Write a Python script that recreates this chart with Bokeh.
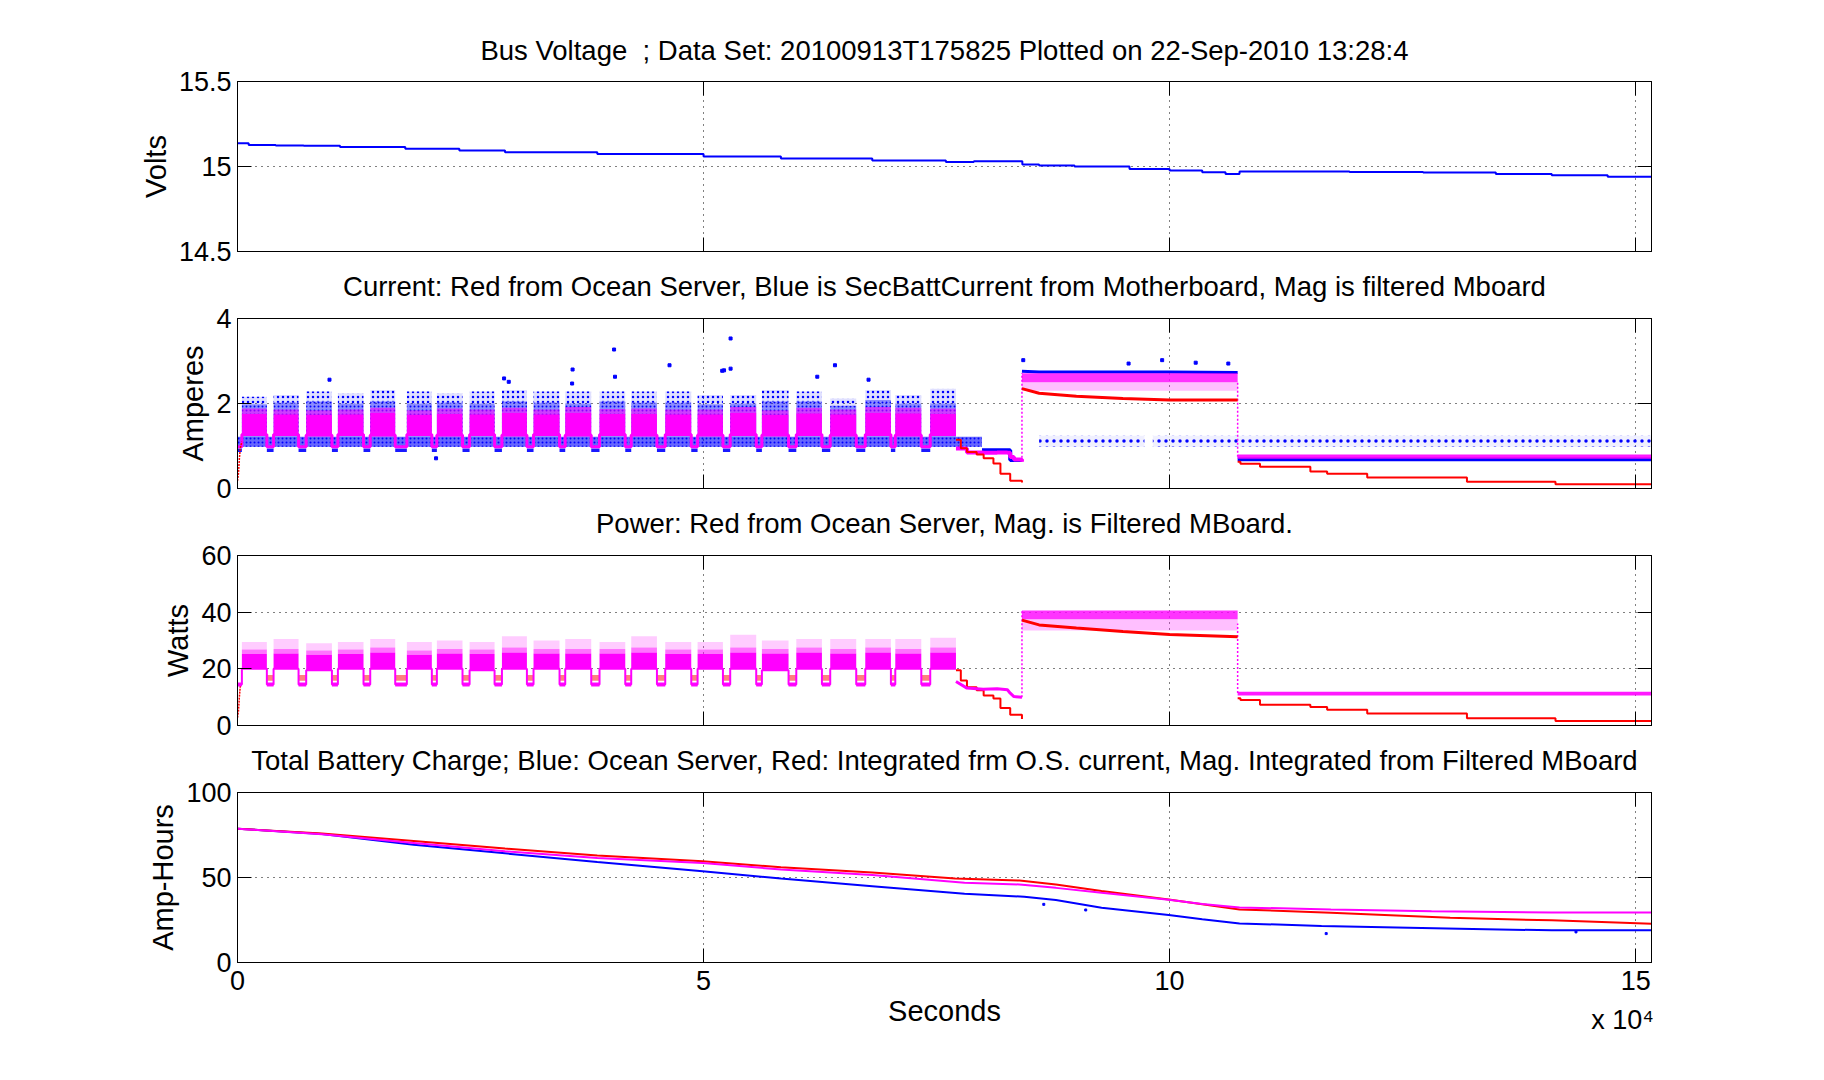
from bokeh.plotting import figure
from bokeh.layouts import column
from bokeh.models import Range1d, FixedTicker, LinearAxis, Title, CustomJSTickFormatter
from bokeh.embed import file_html
from bokeh.resources import INLINE

FONT = "Liberation Sans"

# ---------------- data ----------------
x_max_s = 151700
x_ticks_s = [0, 50000, 100000, 150000]
x_exponent_label = "x 10\u2074"
x_exponent_anchor_s = 148600   # where the exponent note is centred under the axis

titles = [
    "Bus Voltage \u00a0; Data Set: 20100913T175825 Plotted on 22-Sep-2010 13:28:4",
    "Current: Red from Ocean Server, Blue is SecBattCurrent from Motherboard, Mag is filtered Mboard",
    "Power: Red from Ocean Server, Mag. is Filtered MBoard.",
    "Total Battery Charge; Blue: Ocean Server, Red: Integrated frm O.S. current, Mag. Integrated from Filtered MBoard",
]

# Bus voltage
volt_t = [0, 1200, 4100, 7100, 11000, 18000, 23800, 28700, 38600, 50000, 58300, 68100, 76000, 79000,
          83900, 84200, 86000, 89800, 95700, 100000, 103500, 106000, 107500, 119300, 127200, 135000,
          141000, 147000, 151700]
volt_v = [15.137, 15.127, 15.124, 15.122, 15.114, 15.104, 15.094, 15.084, 15.073, 15.059, 15.047,
          15.035, 15.027, 15.031, 15.031, 15.012, 15.006, 15.000, 14.986, 14.976, 14.966, 14.956,
          14.970, 14.968, 14.964, 14.956, 14.948, 14.940, 14.940]

# mission bursts (seconds)
burst_start = [470, 3870, 7370, 10770, 14240, 18170, 21390, 24900, 28370, 31760, 35160, 38840,
               42240, 45890, 49360, 52860, 56260, 59950, 63590, 67350, 70570, 74320]
burst_end = [3150, 6550, 10130, 13520, 16920, 20850, 24140, 27580, 31050, 34550, 37950, 41600,
             45000, 48680, 52080, 55650, 59120, 62700, 66380, 70100, 73360, 77080]

# current in bursts (A)
cur_blue_sparse_top = [2.16, 2.20, 2.28, 2.24, 2.32, 2.28, 2.24, 2.28, 2.32, 2.28, 2.28, 2.28,
                       2.28, 2.28, 2.20, 2.20, 2.32, 2.28, 2.12, 2.32, 2.20, 2.35]
cur_blue_dense_top = [1.98, 2.02, 2.05, 2.00, 2.05, 2.00, 2.02, 2.00, 2.05, 2.02, 2.00, 2.05,
                      2.02, 2.02, 1.98, 2.00, 2.05, 2.05, 1.95, 2.08, 2.00, 2.00]
cur_mag_top = [1.88, 1.86, 1.84, 1.86, 1.90, 1.84, 1.88, 1.86, 1.90, 1.86, 1.92, 1.87,
               1.88, 1.86, 1.86, 1.92, 1.84, 1.90, 1.86, 1.92, 1.90, 1.88]
cur_mag_core_top = [1.76, 1.75, 1.74, 1.75, 1.78, 1.74, 1.76, 1.75, 1.78, 1.75, 1.78, 1.76,
                    1.76, 1.75, 1.75, 1.78, 1.74, 1.77, 1.75, 1.78, 1.77, 1.76]
cur_mag_bot = [1.27, 1.27, 1.26, 1.27, 1.26, 1.27, 1.26, 1.27, 1.26, 1.27, 1.26, 1.27,
               1.26, 1.27, 1.26, 1.27, 1.26, 1.27, 1.26, 1.27, 1.26, 1.27]
cur_base_t = [0, 79870]
cur_base_lo = [0.98, 0.98]
cur_base_hi = [1.22, 1.22]
cur_dip_blue = [0.86, 0.94]
cur_dip_mag_level = 0.98

# power in bursts (W)
pow_mag_bot = [20.0, 20.0, 19.5, 20.0, 20.0, 20.0, 20.0, 19.5, 20.0, 20.0, 20.0, 20.0,
               20.0, 20.0, 20.0, 20.0, 19.5, 20.0, 20.0, 20.0, 20.0, 20.0]
pow_mag_core_top = [25.2, 25.4, 25.0, 25.2, 25.8, 25.0, 25.4, 25.2, 25.8, 25.4, 25.4, 25.4,
                    25.8, 25.2, 25.2, 25.8, 25.4, 25.8, 25.4, 25.8, 25.4, 25.8]
pow_mag_top = [26.8, 27.0, 26.5, 26.8, 27.5, 26.5, 27.0, 26.8, 27.5, 27.0, 27.0, 27.0,
               27.5, 26.8, 26.8, 27.5, 27.0, 27.5, 27.0, 27.5, 27.0, 27.5]
pow_mag_peak = [29.5, 30.5, 29.0, 29.5, 30.5, 29.5, 30.0, 29.5, 31.5, 30.0, 30.5, 29.5,
                31.5, 29.5, 29.5, 32.0, 30.0, 30.5, 30.5, 30.5, 30.5, 31.0]
pow_dip_mag = [13.8, 15.2]
pow_dip_mag_level = 14.5
pow_dip_red = [15.8, 17.8]

# start-up ramp of Ocean Server readings
start_t = [0, 100, 200, 300, 470]
cur_red_start = [0.18, 0.35, 0.70, 0.95, 1.10]
pow_red_start = [2.8, 5.0, 10.0, 14.0, 15.0]

# transition after the missions
decl_t_red = [77080, 77600, 78260, 79300, 80050, 81100, 81850, 82900, 84160]
cur_red_decl = [1.15, 0.95, 0.86, 0.80, 0.71, 0.59, 0.35, 0.18, 0.14]
pow_red_decl = [19.5, 15.9, 13.5, 12.4, 10.6, 9.5, 6.2, 3.8, 2.3]
decl_t_mag = [77080, 78260, 80000, 81500, 82600, 82900, 83300, 84160]
cur_mag_decl = [0.94, 0.85, 0.84, 0.85, 0.84, 0.74, 0.68, 0.63]
pow_mag_decl = [15.5, 13.2, 12.8, 13.0, 12.6, 11.4, 10.2, 10.0]
decl_t_blue = [79870, 82900, 84160]
cur_blue_decl = [0.90, 0.67, 0.67]

# high-load phase
p2_t = [84160, 86000, 90000, 95000, 100000, 107300]
cur_red_p2 = [2.35, 2.24, 2.17, 2.12, 2.08, 2.08]
pow_red_p2 = [37.2, 35.5, 34.4, 33.2, 32.1, 31.3]
cur_blue_p2 = [2.76, 2.74, 2.74, 2.74, 2.74, 2.73]
p2_span = [84160, 107300]
cur_mag_p2_dense = [2.50, 2.71]
cur_mag_p2_sparse = [2.30, 2.50]
pow_mag_p2_dense = [37.5, 40.6]
pow_mag_p2_sparse = [33.5, 37.5]

# low-load phase
p3_t = [107300, 107600, 109700, 115100, 116900, 121200, 131900, 141400, 151700]
cur_red_p3 = [0.63, 0.58, 0.51, 0.40, 0.35, 0.26, 0.16, 0.10, 0.10]
pow_red_p3 = [9.6, 9.0, 7.3, 6.5, 5.6, 4.2, 2.6, 1.6, 1.6]
p3_span = [107300, 151700]
cur_blue_p3 = [0.69, 0.69]
cur_mag_p3 = [0.70, 0.80]
pow_mag_p3 = [10.6, 11.9]

# sparse blue SecBattCurrent scatter after the missions
sparse_left = [86000, 98200]
sparse_right = [97300, 151700]
sparse_lo = [0.98, 0.98]
sparse_hi = [1.24, 1.24]

# step transitions of the filtered signal
jump_t = [84160, 107300]
cur_jump_lo = [0.63, 0.75]
cur_jump_hi = [2.72, 2.50]
pow_jump_lo = [10.0, 11.5]
pow_jump_hi = [41.0, 36.0]

# isolated blue outliers
out_t = [9870, 40400, 46350, 35950, 40500, 52000, 28600, 29100, 35900, 21300, 52900, 52900,
         64100, 62200, 67700, 52200, 84300, 95600, 99200, 102800, 106300]
out_a = [2.56, 3.27, 2.90, 2.80, 2.63, 2.77, 2.59, 2.51, 2.47, 0.71, 3.53, 2.82,
         2.90, 2.63, 2.56, 2.78, 3.02, 2.94, 3.02, 2.96, 2.94]

# total battery charge (Ah)
ah_t_blue = [0, 9060, 18900, 28700, 38600, 49900, 58300, 68100, 78000, 84400, 87800, 92700,
             99900, 103500, 107500, 116300, 131100, 141000, 151700]
ah_blue = [78.7, 75.6, 69.3, 64.2, 59.1, 53.7, 49.4, 44.9, 40.4, 38.7, 36.7, 32.2,
           27.9, 25.4, 23.0, 21.5, 19.9, 18.9, 18.9]
ah_t_red = [0, 9060, 18900, 28700, 38600, 49900, 58300, 68100, 77000, 83900, 87800, 92700,
            99900, 103500, 107500, 117300, 130100, 141000, 151700]
ah_red = [78.7, 75.9, 71.5, 67.0, 63.0, 59.6, 56.0, 52.9, 49.4, 48.2, 45.9, 42.0,
          37.1, 34.2, 31.2, 29.3, 26.3, 24.8, 22.8]
ah_t_mag = [0, 9060, 18900, 28700, 38600, 49900, 58300, 68100, 78000, 83900, 87800, 92700,
            99900, 103500, 107500, 117300, 128100, 141000, 151700]
ah_mag = [78.7, 75.4, 70.3, 65.4, 61.5, 58.6, 54.7, 51.4, 46.9, 45.9, 43.9, 41.0,
          36.9, 34.4, 32.4, 31.2, 30.2, 29.4, 29.4]
ah_out_t = [86500, 91000, 116800, 143600]
ah_out_v = [34.2, 30.9, 17.0, 18.0]

# ---------------- helpers ----------------
BLUE, RED, MAG = "#0000ff", "#ff0000", "#ff00ff"
TICK_PX = "27px"
TITLE_PX = "27.5px"


def style_axis(ax, labels):
    ax.major_tick_in = 14
    ax.major_tick_out = 0
    ax.minor_tick_line_color = None
    ax.axis_line_color = "black"
    ax.major_tick_line_color = "black"
    ax.major_label_text_font = FONT
    if labels:
        ax.major_label_text_color = "black"
        ax.major_label_text_font_size = TICK_PX
        ax.major_label_standoff = 6
    else:
        ax.major_label_text_color = None
        ax.major_label_text_alpha = 0
        ax.major_label_text_font_size = "0px"
        ax.major_label_standoff = 0
    ax.axis_label_text_font = FONT
    ax.axis_label_text_font_style = "normal"
    ax.axis_label_text_font_size = "29px"
    ax.axis_label_text_color = "black"


def make_panel(idx, ylabel, yr, yticks):
    first = idx == 0
    last = idx == 3
    p = figure(frame_width=1414, frame_height=170, title=None,
               x_range=Range1d(0, x_max_s), y_range=Range1d(*yr),
               output_backend="svg", toolbar_location=None,
               min_border_left=237, min_border_right=40,
               min_border_top=81 if first else 14,
               min_border_bottom=95 if last else 51,
               background_fill_color="white", border_fill_color="white")
    p.outline_line_color = "black"
    xt = FixedTicker(ticks=x_ticks_s)
    yt = FixedTicker(ticks=yticks)
    p.xaxis.ticker = xt
    p.yaxis.ticker = yt
    p.xaxis.formatter = CustomJSTickFormatter(code="return (tick/10000).toString();")
    p.yaxis.formatter = CustomJSTickFormatter(code="return tick.toString();")
    style_axis(p.xaxis[0], last)
    style_axis(p.yaxis[0], True)
    p.yaxis.axis_label = ylabel
    p.yaxis.axis_label_standoff = 4
    if last:
        p.xaxis.major_label_standoff = 8
        p.xaxis.axis_label = "Seconds"
        p.xaxis.axis_label_standoff = 2
    else:
        # the next panel's heading sits in the gap below this panel
        p.xaxis.axis_label = titles[idx + 1]
        p.xaxis.axis_label_text_font_size = TITLE_PX
        p.xaxis.axis_label_standoff = 19
    right = LinearAxis(ticker=yt)
    style_axis(right, False)
    p.add_layout(right, "right")
    top = LinearAxis(ticker=xt)
    style_axis(top, False)
    p.add_layout(top, "above")
    for g, t in ((p.xgrid, xt), (p.ygrid, yt)):
        g.ticker = t
        g.grid_line_color = "black"
        g.grid_line_dash = "1 5"
        g.grid_line_width = 1
        g.grid_line_alpha = 1.0
    if first:
        p.add_layout(Title(text=titles[0], text_font=FONT, text_font_size=TITLE_PX,
                           text_font_style="normal", align="center", text_color="black",
                           standoff=31), "above")
    return p


def burst_path(bottoms, dip_level):
    xs, ys = [0, burst_start[0]], [dip_level, dip_level]
    for i in range(len(burst_start)):
        xs += [burst_start[i], burst_end[i]]
        ys += [bottoms[i], bottoms[i]]
        if i < len(burst_start) - 1:
            xs += [burst_end[i], burst_start[i + 1]]
            ys += [dip_level, dip_level]
    return xs, ys


dip_left = [0] + burst_end[:-1]
dip_right = burst_start

# ---------------- panel 1: voltage ----------------
p1 = make_panel(0, "Volts", (14.5, 15.5), [14.5, 15, 15.5])
p1.step(volt_t, volt_v, mode="after", color=BLUE, line_width=2)

# ---------------- panel 2: current ----------------
p2 = make_panel(1, "Amperes", (0, 4), [0, 2, 4])
# blue SecBattCurrent
p2.quad(left=cur_base_t[:1], right=cur_base_t[1:], bottom=cur_base_lo[:1], top=cur_base_hi[:1],
        fill_color=BLUE, fill_alpha=0.6, line_color=None,
        hatch_pattern="dot", hatch_color=BLUE, hatch_scale=4, hatch_weight=2)
p2.quad(left=burst_start, right=burst_end, bottom=cur_base_hi[0], top=cur_blue_dense_top,
        fill_color=BLUE, fill_alpha=0.45, line_color=None,
        hatch_pattern="dot", hatch_color=BLUE, hatch_scale=4, hatch_weight=2)
p2.quad(left=burst_start, right=burst_end, bottom=cur_blue_dense_top, top=cur_blue_sparse_top,
        fill_color=BLUE, fill_alpha=0.12, line_color=None,
        hatch_pattern="dot", hatch_color=BLUE, hatch_scale=5, hatch_weight=2)
p2.quad(left=dip_left, right=dip_right, bottom=cur_dip_blue[0], top=cur_dip_blue[1],
        fill_color=BLUE, fill_alpha=0.9, line_color=None)
p2.quad(left=sparse_left, right=sparse_right, bottom=sparse_lo, top=sparse_hi,
        fill_color=BLUE, fill_alpha=0.06, line_color=None,
        hatch_pattern="dot", hatch_color=BLUE, hatch_scale=7, hatch_weight=2)
p2.step(decl_t_blue, cur_blue_decl, mode="after", color=BLUE, line_width=4)
p2.line(p2_t, cur_blue_p2, color=BLUE, line_width=3)
p2.line(p3_span, cur_blue_p3, color=BLUE, line_width=4)
p2.scatter(out_t, out_a, marker="square", size=3, color=BLUE)
# magenta filtered
p2.quad(left=burst_start, right=burst_end, bottom=cur_mag_core_top, top=cur_mag_top,
        fill_color=MAG, fill_alpha=0.55, line_color=None)
p2.quad(left=burst_start, right=burst_end, bottom=cur_mag_bot, top=cur_mag_core_top,
        fill_color=MAG, fill_alpha=1.0, line_color=None)
bx, by = burst_path(cur_mag_bot, cur_dip_mag_level)
p2.line(bx, by, color=MAG, line_width=3)
p2.step(decl_t_mag, cur_mag_decl, mode="after", color=MAG, line_width=4)
p2.quad(left=p2_span[:1], right=p2_span[1:], bottom=cur_mag_p2_sparse[:1], top=cur_mag_p2_sparse[1:],
        fill_color=MAG, fill_alpha=0.25, line_color=None)
p2.quad(left=p2_span[:1], right=p2_span[1:], bottom=cur_mag_p2_dense[:1], top=cur_mag_p2_dense[1:],
        fill_color=MAG, fill_alpha=0.8, line_color=None)
p2.quad(left=p3_span[:1], right=p3_span[1:], bottom=cur_mag_p3[:1], top=cur_mag_p3[1:],
        fill_color=MAG, fill_alpha=0.9, line_color=None)
p2.segment(x0=jump_t, y0=cur_jump_lo, x1=jump_t, y1=cur_jump_hi, color=MAG, line_width=1.5,
           line_dash="2 2")
# red Ocean Server
p2.line(start_t, cur_red_start, color=RED, line_width=1.5, line_dash="2 1")
p2.step(decl_t_red, cur_red_decl, mode="after", color=RED, line_width=2)
p2.line(p2_t, cur_red_p2, color=RED, line_width=3)
p2.step(p3_t, cur_red_p3, mode="after", color=RED, line_width=2)

# ---------------- panel 3: power ----------------
p3 = make_panel(2, "Watts", (0, 60), [0, 20, 40, 60])
p3.quad(left=dip_left[1:], right=dip_right[1:], bottom=pow_dip_red[0], top=pow_dip_red[1],
        fill_color=RED, fill_alpha=0.5, line_color=None)
p3.line(start_t, pow_red_start, color=RED, line_width=1.5, line_dash="2 1")
p3.step(decl_t_red, pow_red_decl, mode="after", color=RED, line_width=2)
p3.quad(left=burst_start, right=burst_end, bottom=pow_mag_top, top=pow_mag_peak,
        fill_color=MAG, fill_alpha=0.2, line_color=None)
p3.quad(left=burst_start, right=burst_end, bottom=pow_mag_core_top, top=pow_mag_top,
        fill_color=MAG, fill_alpha=0.55, line_color=None)
p3.quad(left=burst_start, right=burst_end, bottom=pow_mag_bot, top=pow_mag_core_top,
        fill_color=MAG, fill_alpha=1.0, line_color=None)
p3.quad(left=dip_left, right=dip_right, bottom=pow_dip_mag[0], top=pow_dip_mag[1],
        fill_color=MAG, fill_alpha=0.95, line_color=None)
px, py = burst_path(pow_mag_bot, pow_dip_mag_level)
p3.line(px, py, color=MAG, line_width=2)
p3.line(decl_t_mag, pow_mag_decl, color=MAG, line_width=3)
p3.quad(left=p2_span[:1], right=p2_span[1:], bottom=pow_mag_p2_sparse[:1], top=pow_mag_p2_sparse[1:],
        fill_color=MAG, fill_alpha=0.25, line_color=None)
p3.quad(left=p2_span[:1], right=p2_span[1:], bottom=pow_mag_p2_dense[:1], top=pow_mag_p2_dense[1:],
        fill_color=MAG, fill_alpha=0.8, line_color=None)
p3.quad(left=p3_span[:1], right=p3_span[1:], bottom=pow_mag_p3[:1], top=pow_mag_p3[1:],
        fill_color=MAG, fill_alpha=0.9, line_color=None)
p3.segment(x0=jump_t, y0=pow_jump_lo, x1=jump_t, y1=pow_jump_hi, color=MAG, line_width=1.5,
           line_dash="2 2")
p3.line(p2_t, pow_red_p2, color=RED, line_width=3)
p3.step(p3_t, pow_red_p3, mode="after", color=RED, line_width=2)

# ---------------- panel 4: charge ----------------
p4 = make_panel(3, "Amp-Hours", (0, 100), [0, 50, 100])
p4.line(ah_t_blue, ah_blue, color=BLUE, line_width=2)
p4.line(ah_t_red, ah_red, color=RED, line_width=2)
p4.line(ah_t_mag, ah_mag, color=MAG, line_width=2)
p4.scatter(ah_out_t, ah_out_v, marker="square", size=2, color=BLUE)

# exponent note under the right end of the x axis
exp_axis = LinearAxis(ticker=FixedTicker(ticks=[x_exponent_anchor_s]),
                      formatter=CustomJSTickFormatter(code="return '%s';" % x_exponent_label))
exp_axis.axis_line_color = None
exp_axis.major_tick_line_color = None
exp_axis.minor_tick_line_color = None
exp_axis.major_tick_in = 0
exp_axis.major_tick_out = 0
exp_axis.major_label_text_font = FONT
exp_axis.major_label_text_font_size = "27px"
exp_axis.major_label_text_color = "black"
exp_axis.major_label_standoff = -25
p4.add_layout(exp_axis, "below")

layout = column(p1, p2, p3, p4, spacing=0)
open("out.html", "w").write(file_html(layout, INLINE))
